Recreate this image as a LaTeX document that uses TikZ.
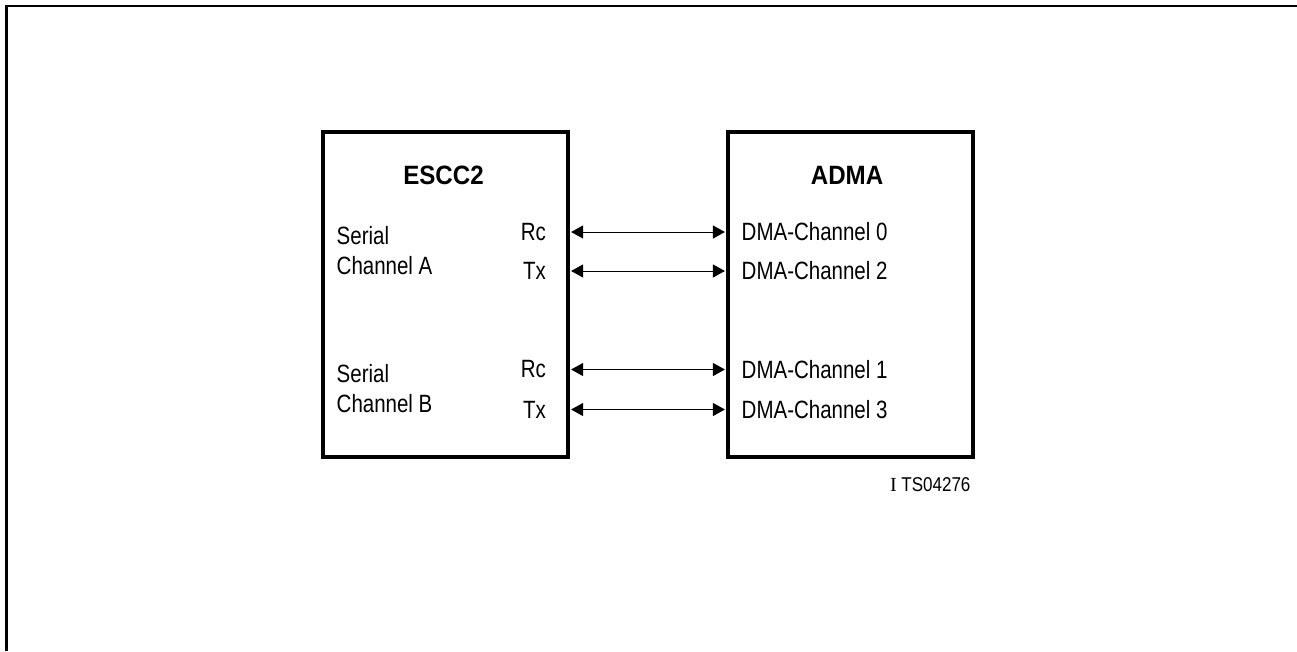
\documentclass[tikz,border=0pt]{standalone}
\usepackage{fontspec}
\setmainfont{Liberation Sans}[FakeStretch=0.82]
\newfontfamily\titlefont{Liberation Sans}[FakeStretch=0.91]
\newfontfamily\idsans{Liberation Sans}[FakeStretch=0.85]
\newfontfamily\idserif{Liberation Serif}
\usetikzlibrary{arrows.meta}
\begin{document}
\begin{tikzpicture}[x=1pt,y=-1pt,
  block/.style={draw,line width=3.2pt,minimum width=245pt,minimum height=325pt,inner sep=0pt},
  lbl/.style={inner sep=0pt,font=\fontsize{25}{29}\selectfont},
  title/.style={inner sep=0pt,font=\fontsize{26.5}{30}\titlefont\bfseries},
  conn/.style={line width=1pt,{Triangle[length=12pt,width=13pt]}-{Triangle[length=12pt,width=13pt]},shorten <=1.5pt,shorten >=1.5pt}]
\useasboundingbox (0,0) rectangle (1297,651);
% outer frame (top and left)
\draw[line width=2.4pt] (6.5,651) -- (6.5,6) -- (1297,6);
% blocks
\node[block] (escc) at (445.5,294.5) {};
\node[block] (adma) at (850.5,294.5) {};
\node[title] (esccT) at (443.5,175.5) {ESCC2};
\node[title] (admaT) at (847,175.5) {ADMA};
% ESCC2 labels
\node[lbl,anchor=base west] (serA) at (336.5,244) {Serial};
\node[lbl,anchor=base west] (chA) at (336.5,274) {Channel A};
\node[lbl,anchor=base west] (serB) at (336.5,382) {Serial};
\node[lbl,anchor=base west] (chB) at (336.5,412) {Channel B};
\node[lbl,anchor=east] (rcA) at (546,232) {Rc};
\node[lbl,anchor=east] (txA) at (546,271) {Tx};
\node[lbl,anchor=east] (rcB) at (546,369.5) {Rc};
\node[lbl,anchor=east] (txB) at (546,409.5) {Tx};
% ADMA labels
\node[lbl,anchor=west] (d0) at (741.5,232) {DMA-Channel 0};
\node[lbl,anchor=west] (d2) at (741.5,271) {DMA-Channel 2};
\node[lbl,anchor=west] (d1) at (741.5,369.5) {DMA-Channel 1};
\node[lbl,anchor=west] (d3) at (741.5,409.5) {DMA-Channel 3};
% connectors
\draw[conn] (escc.east |- rcA) -- (adma.west |- rcA);
\draw[conn] (escc.east |- txA) -- (adma.west |- txA);
\draw[conn] (escc.east |- rcB) -- (adma.west |- rcB);
\draw[conn] (escc.east |- txB) -- (adma.west |- txB);
% figure id
\node[inner sep=0pt,anchor=base west,font=\fontsize{20}{23}\selectfont] (fid) at (890,491.7) {{\idserif I} \idsans TS04276};
\end{tikzpicture}
\end{document}
